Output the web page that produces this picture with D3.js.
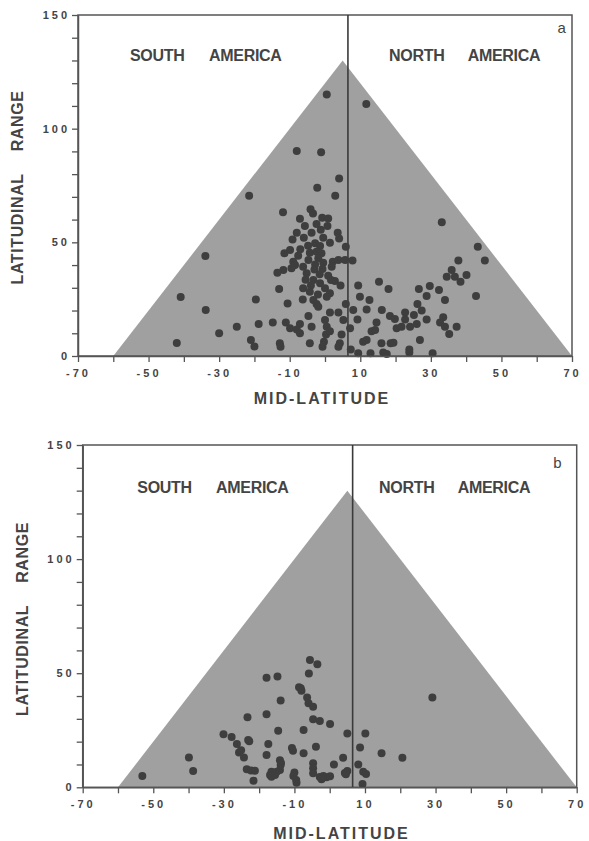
<!DOCTYPE html>
<html>
<head>
<meta charset="utf-8">
<script src="https://cdn.jsdelivr.net/npm/d3@7"></script>
<style>
  body { margin: 0; background: #fff; }
  text { font-family: "Liberation Sans", Arial, sans-serif; fill: #444; }
</style>
</head>
<body>
<div id="chart"></div>
<script>
// axis ticks
const xTicks = [-70, -60, -50, -40, -30, -20, -10, 0, 10, 20, 30, 40, 50, 60, 70];
const xTickLabels = [-70, -50, -30, -10, 10, 30, 50, 70];
const yTicks = [0, 10, 20, 30, 40, 50, 60, 70, 80, 90, 100, 110, 120, 130, 140, 150];
const yTickLabels = [0, 50, 100, 150];

// geometric limit of range vs mid-latitude, and the split between continents
const envelope = [[-60, 0], [5, 130], [70, 0]];
const divide = 6.5;

// [mid-latitude, latitudinal range]
const pointsA = [
  [-21.5, 70.5], [-33.9, 44], [-40.9, 26], [-33.8, 20.2], [-19.6, 24.9], [-25, 12.9], [-30, 10],
  [-42, 5.7], [-18.8, 14.1], [-21, 7], [-20, 4.2],
  [0.5, 115], [11.7, 110.8], [-8, 90.2], [-1.1, 89.6], [4, 78.1], [-2.2, 74], [2.9, 70.5],
  [-11.9, 63.2], [-4.1, 64.5], [-3.4, 62.7], [-7.1, 60.4], [-0.8, 60.8], [0.9, 60.5],
  [-5.7, 57.2], [-2.4, 58.1], [0.7, 57.2], [-1.2, 55.5], [33.1, 58.8], [-8, 54.2], [3.6, 54.2],
  [-3.8, 54.2], [-9.2, 51.3], [-6, 52], [-0.5, 52], [4, 51.7], [1.4, 49.8], [-4.8, 48.5],
  [-2.8, 49.6], [-1.4, 48.4], [5.9, 48.1], [43.3, 48.1], [-7, 47],
  [-11.5, 45.2], [-9.9, 46.6], [-7.6, 44.1], [-4.3, 45.4], [-2.4, 45.9], [-1, 45.2], [-9, 41.5],
  [-4.7, 42.2], [-1.9, 43], [-2.8, 40.3], [-0.5, 41], [2.2, 41.5], [3.8, 42.2], [5.7, 42.2],
  [7.8, 42], [37.8, 42], [45.3, 42], [-8.5, 40],
  [-9.5, 38.6], [-6.2, 39.3], [-0.7, 38.3], [1.9, 39.3], [-11.8, 37.8], [-13.5, 36.6], [-3, 38],
  [-1.5, 36], [35.9, 37.8], [34.5, 34.9], [36.8, 34.9], [38.4, 32.7], [40.1, 35.6],
  [-5.2, 36.4], [0.9, 35.3], [-3.3, 33.4], [1.7, 33.4], [2.8, 33], [-5.5, 33.5], [-6.2, 29.8],
  [-1.4, 32], [-4, 31], [0, 29.8], [4.4, 31], [9.4, 31], [15.3, 32.7], [18, 29.5], [26.6, 29.5],
  [29.7, 30.8], [32.3, 29],
  [-13, 29.5], [-4.3, 28.3], [1.4, 27.6], [-2, 27], [-6.3, 24.9], [-3.3, 24.6], [-2.4, 22.9],
  [0.5, 26.1], [9.9, 26.1], [12.6, 24.6], [28.8, 26.4], [34, 24.6], [42.8, 26.4],
  [-10.6, 23.1], [-1.9, 21.7], [5.9, 22.9], [8, 20.2], [11.8, 20.5], [16.1, 20.2], [26.2, 22.9],
  [27.4, 20], [1.4, 19.1], [3.8, 19.1], [-4.7, 17.6], [18.4, 17.6], [19.8, 16.3], [22.7, 19.1],
  [22.7, 16.1], [25.2, 18], [33.5, 17],
  [-14.8, 14.7], [-11.1, 14.7], [-7.1, 14.1], [0, 15.8], [5.2, 15.8], [9.2, 16.1], [28.8, 16.1],
  [-9.9, 12.2], [-8, 11.7], [-3.8, 12.9], [0.5, 12.9], [7.1, 12.2], [14.6, 14.7], [20.3, 12.2],
  [21.7, 12.9], [24.1, 12.9], [26, 14.1], [32.6, 14.7], [34, 12.9], [37.3, 12.9],
  [-7.1, 10], [0.3, 9.5], [1.4, 10.9], [4.7, 9.5], [13.2, 10.9], [14.2, 11.4], [35.2, 9.7],
  [26.9, 7], [-0.3, 6.3], [4.2, 5.6], [10.8, 6.3], [11.8, 7], [16, 5.6], [18.6, 5.6], [19.4, 5.8],
  [-12.8, 5.6], [-12.6, 4.1], [-4.3, 5.6], [-0.7, 4.1], [3.8, 4.1], [7.3, 2.9], [9.4, 1.2],
  [12.9, 1.2], [16.5, 1.5], [17.5, 0.9], [23.9, 2.9], [23.9, 1.5], [30.5, 1.2]
];

const pointsB = [
  [-53.1, 4.9], [-39.9, 13.1], [-38.7, 7.1], [-23.3, 30.7], [-30.1, 23.2], [-27.8, 22],
  [-26.3, 19], [-23.1, 20.7], [-22.8, 20.2], [-25.7, 15.2], [-25.1, 16.2], [-24.3, 13.1],
  [-23.5, 7.9], [-22.3, 7.4], [-21.2, 7.3], [-21.6, 2.9],
  [-17.9, 48], [-14.8, 48.5], [-13.9, 38], [-17.9, 32], [-14.6, 24.8], [-17.4, 19], [-17.9, 14.2],
  [-10.7, 17.2], [-10.4, 16],
  [-14.1, 11.9], [-13.9, 9.8], [-14.1, 7.6], [-15, 6.8], [-16.5, 6.8], [-16.9, 5.4], [-16.5, 4.6],
  [-15.5, 5.4], [-13.8, 10.7],
  [-10, 6.5], [-10.3, 5], [-9.5, 3.2], [-9.4, 2],
  [-8.7, 43.8], [-5.6, 55.8], [-3.5, 53.9], [-5.9, 49.9], [-8.2, 43.4], [-8, 42.3], [-6.4, 39.3],
  [-6, 36.8], [-4.7, 35.3], [-4.7, 29.8], [-2.8, 29], [0.1, 27.7], [-7.4, 25.1], [5, 23.6],
  [10.1, 23.6], [-3.9, 17.8], [-7.4, 14.9], [8.6, 17.4], [14.7, 14.9], [20.6, 13], [3.8, 13],
  [1.2, 10], [8.1, 10], [-4.7, 10.5], [-4.7, 8.3], [-4.7, 6.2], [-2.8, 4.5], [-1.8, 5], [-0.9, 4.4],
  [0.1, 4.8], [-2.3, 3.5], [4.3, 6.3], [5, 7.1], [4.6, 5.7], [9.5, 6.8], [10.3, 5.8], [9.3, 1.4],
  [29.1, 39.3]
];

const width = 589, height = 841;
const axisInk = "#555";

const panels = [
  {
    letter: "a", data: pointsA,
    left: 78, right: 572, top: 15, bottom: 356,
    south: [130, 209], north: [389, 467.7], regionY: 61,
    letterPos: [561.7, 33],
    yTitle: [23, 187.5], xTitle: [322, 404]
  },
  {
    letter: "b", data: pointsB,
    left: 82.7, right: 576.7, top: 445, bottom: 787.3,
    south: [137.3, 216], north: [379, 457.7], regionY: 492.7,
    letterPos: [557.3, 468.3],
    yTitle: [28, 619], xTitle: [341.5, 839]
  }
];

const svg = d3.select("#chart").append("svg")
  .attr("width", width)
  .attr("height", height);

panels.forEach(drawPanel);

function drawPanel(p) {
  const x = d3.scaleLinear().domain([-70, 70]).range([p.left, p.right]);
  const y = d3.scaleLinear().domain([0, 150]).range([p.bottom, p.top]);
  const g = svg.append("g");

  // shaded envelope
  g.append("path")
    .attr("d", d3.line().x(d => x(d[0])).y(d => y(d[1]))(envelope) + "Z")
    .attr("fill", "#a0a0a0");

  // frame
  g.append("rect")
    .attr("x", p.left).attr("y", p.top)
    .attr("width", p.right - p.left).attr("height", p.bottom - p.top)
    .attr("fill", "none").attr("stroke", axisInk).attr("stroke-width", 1.5);

  // continent divide
  g.append("line")
    .attr("x1", x(divide)).attr("x2", x(divide))
    .attr("y1", y(150)).attr("y2", y(0))
    .attr("stroke", "#3a3a3a").attr("stroke-width", 1.6);

  // points
  g.append("g").selectAll("circle")
    .data(p.data)
    .join("circle")
    .attr("cx", d => x(d[0]))
    .attr("cy", d => y(d[1]))
    .attr("r", 4)
    .attr("fill", "#3e3e3e");

  // axes
  const xAxis = d3.axisBottom(x)
    .tickValues(xTicks)
    .tickSize(6).tickSizeOuter(0).tickPadding(7)
    .tickFormat(d => xTickLabels.includes(d) ? String(d) : "");
  const gx = g.append("g")
    .attr("transform", `translate(0,${p.bottom})`)
    .call(xAxis);

  const yAxis = d3.axisLeft(y)
    .tickValues(yTicks)
    .tickSize(6).tickSizeOuter(0).tickPadding(2)
    .tickFormat(d => yTickLabels.includes(d) ? String(d) : "");
  const gy = g.append("g")
    .attr("transform", `translate(${p.left},0)`)
    .call(yAxis);

  [gx, gy].forEach(a => {
    a.select(".domain").attr("stroke", axisInk).attr("stroke-width", 1.5);
    a.selectAll(".tick line").attr("stroke", axisInk).attr("stroke-width", 1.3);
    a.selectAll(".tick text")
      .attr("fill", "#555")
      .style("font-family", '"Liberation Sans", Arial, sans-serif')
      .style("font-size", "11px")
      .style("font-weight", "bold")
      .style("letter-spacing", "3px");
  });

  // region names
  const region = (txt, px) => g.append("text")
    .attr("x", px).attr("y", p.regionY)
    .style("font-size", "16px").style("font-weight", "bold")
    .style("letter-spacing", "-0.3px")
    .text(txt);
  region("SOUTH", p.south[0]);
  region("AMERICA", p.south[1]);
  region("NORTH", p.north[0]);
  region("AMERICA", p.north[1]);

  // panel letter
  g.append("text")
    .attr("x", p.letterPos[0]).attr("y", p.letterPos[1])
    .attr("text-anchor", "middle")
    .style("font-size", "15px")
    .text(p.letter);

  // axis titles
  g.append("text")
    .attr("x", p.xTitle[0]).attr("y", p.xTitle[1])
    .attr("text-anchor", "middle")
    .style("font-size", "16px").style("font-weight", "bold")
    .style("letter-spacing", "2px")
    .text("MID-LATITUDE");

  const yt = g.append("text")
    .attr("transform", `translate(${p.yTitle[0]},${p.yTitle[1]}) rotate(-90)`)
    .attr("text-anchor", "middle")
    .style("font-size", "16px").style("font-weight", "bold")
    .style("letter-spacing", "0.6px");
  yt.append("tspan").text("LATITUDINAL");
  yt.append("tspan").attr("dx", 22).text("RANGE");
}
</script>
</body>
</html>
